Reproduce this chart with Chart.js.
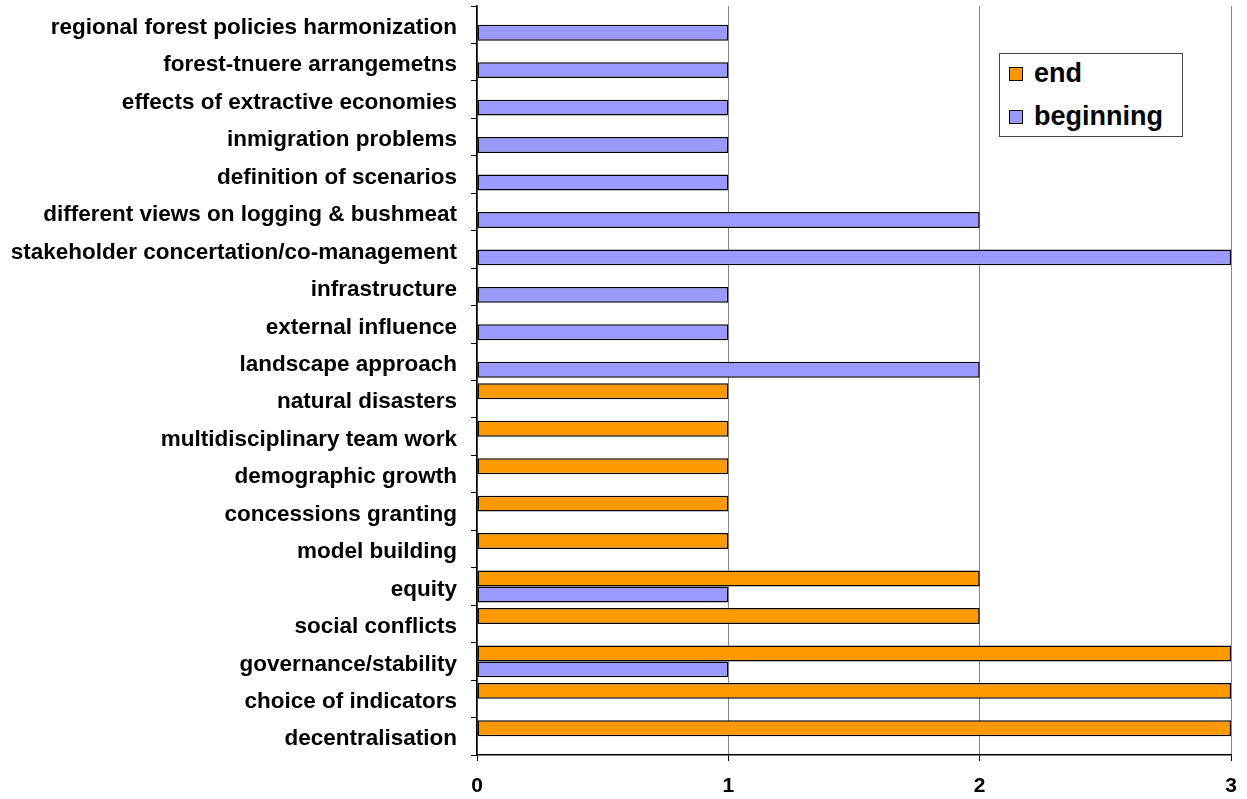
<!DOCTYPE html>
<html>
<head>
<meta charset="utf-8">
<script src="https://cdn.jsdelivr.net/npm/chart.js@4.4.1/dist/chart.umd.min.js"></script>
<style>
  body { margin: 0; background: #fff; }
  #wrap { position: relative; width: 1247px; height: 799px; }
  #legend {
    position: absolute; left: 999px; top: 53px; width: 182px; height: 82px;
    border: 1px solid #444; background: #fff;
    font-family: "Liberation Sans", Arial, sans-serif; font-weight: bold; font-size: 27px; color: #000;
  }
  .item { position: absolute; left: 9px; display: flex; align-items: center; }
  .swatch { width: 12px; height: 12px; border: 1px solid #000; margin-right: 11px; }
</style>
</head>
<body>
<div id="wrap">
  <canvas id="bar-chart" width="1247" height="799"></canvas>
  <div id="legend"></div>
</div>
<script>
const categories = [
  "regional forest policies harmonization",
  "forest-tnuere arrangemetns",
  "effects of extractive economies",
  "inmigration problems",
  "definition of scenarios",
  "different views on logging & bushmeat",
  "stakeholder concertation/co-management",
  "infrastructure",
  "external influence",
  "landscape approach",
  "natural disasters",
  "multidisciplinary team work",
  "demographic growth",
  "concessions granting",
  "model building",
  "equity",
  "social conflicts",
  "governance/stability",
  "choice of indicators",
  "decentralisation"
];

const end_values       = [null, null, null, null, null, null, null, null, null, null, 1, 1, 1, 1, 1, 2, 2, 3, 3, 3];
const beginning_values = [1, 1, 1, 1, 1, 2, 3, 1, 1, 2, null, null, null, null, null, 1, null, 1, null, null];

const x_ticks = [0, 1, 2, 3];

const chart_colours = ["#FF9900", "#9999FF"];

const label_font = { family: "'Liberation Sans', Arial, sans-serif", weight: "bold", size: 22.5 };
const tick_font = { family: "'Liberation Sans Narrow', 'Liberation Sans', Arial, sans-serif", weight: "bold", size: 21 };

const datasets = [
  { label: "end", data: end_values, backgroundColor: chart_colours[0] },
  { label: "beginning", data: beginning_values, backgroundColor: chart_colours[1] }
].map(d => ({ ...d, borderColor: "#000", borderWidth: 1.5, borderSkipped: false }));

const ctx = document.getElementById("bar-chart").getContext("2d");

new Chart(ctx, {
  type: "bar",
  data: { labels: categories, datasets: datasets },
  options: {
    indexAxis: "y",
    responsive: false,
    animation: false,
    layout: { padding: { top: 6, right: 16, left: 0, bottom: 0 } },
    datasets: { bar: { categoryPercentage: 0.85, barPercentage: 1.0 } },
    plugins: {
      legend: { display: false },
      tooltip: { enabled: false }
    },
    scales: {
      x: {
        min: 0,
        max: 3,
        afterBuildTicks: (axis) => { axis.ticks = x_ticks.map(v => ({ value: v })); },
        afterFit: (axis) => {
          axis.height = 44;
          axis.paddingLeft = 0;
          axis.paddingRight = 0;   // the plot runs right up to the padding
        },
        ticks: { font: tick_font, color: "#000", padding: 13 },
        grid: { color: "#888", tickColor: "#000", tickLength: 6, lineWidth: 1 },
        border: { color: "#000", width: 1.5 }
      },
      y: {
        afterFit: (axis) => {
          axis.width = 477;
          axis.paddingTop = 0;     // no extra room for half a label at the top
          axis.paddingBottom = 0;
        },
        ticks: { font: label_font, color: "#000", padding: 14, autoSkip: false, labelOffset: 3 },
        grid: { drawOnChartArea: false, tickColor: "#000", tickLength: 6, offset: true },
        border: { color: "#000", width: 1.5 }
      }
    }
  }
});

// legend drawn as html text, built from the datasets
const legend = document.getElementById("legend");
datasets.forEach((d, i) => {
  const item = document.createElement("div");
  item.className = "item";
  item.style.top = (i === 0 ? 4 : 47) + "px";
  item.innerHTML = `<span class="swatch" style="background:${d.backgroundColor}"></span><span>${d.label}</span>`;
  legend.appendChild(item);
});
</script>
</body>
</html>
